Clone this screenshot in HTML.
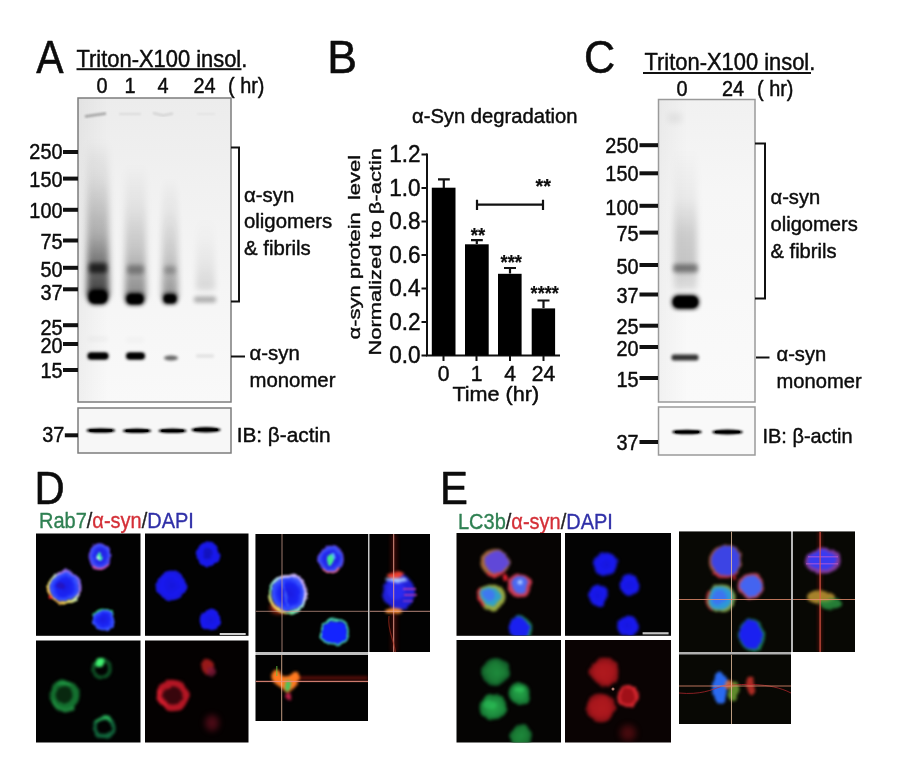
<!DOCTYPE html>
<html lang="en">
<head>
<meta charset="utf-8">
<title>Figure</title>
<style>
html,body{margin:0;padding:0;background:#fff;}
body{width:900px;height:762px;overflow:hidden;}
svg{display:block;filter:blur(0.45px);font-family:"Liberation Sans",sans-serif;fill:#0c0c0c;stroke:#0c0c0c;stroke-width:0;}
text{stroke-linejoin:round;}
</style>
</head>
<body>
<svg width="900" height="762" viewBox="0 0 900 762">
<defs>
<filter id="b05" x="-60%" y="-60%" width="220%" height="220%" color-interpolation-filters="sRGB"><feGaussianBlur stdDeviation="0.6"/></filter>
<filter id="b1" x="-60%" y="-60%" width="220%" height="220%" color-interpolation-filters="sRGB"><feGaussianBlur stdDeviation="1"/></filter>
<filter id="b15" x="-60%" y="-60%" width="220%" height="220%" color-interpolation-filters="sRGB"><feGaussianBlur stdDeviation="1.6"/></filter>
<filter id="b2" x="-60%" y="-60%" width="220%" height="220%" color-interpolation-filters="sRGB"><feGaussianBlur stdDeviation="2.2"/></filter>
<filter id="b3" x="-60%" y="-60%" width="220%" height="220%" color-interpolation-filters="sRGB"><feGaussianBlur stdDeviation="3"/></filter>
<filter id="b4" x="-60%" y="-60%" width="220%" height="220%" color-interpolation-filters="sRGB"><feGaussianBlur stdDeviation="4"/></filter>
<filter id="b5" x="-60%" y="-60%" width="220%" height="220%" color-interpolation-filters="sRGB"><feGaussianBlur stdDeviation="5"/></filter>
<filter id="org" x="-20%" y="-20%" width="140%" height="140%" color-interpolation-filters="sRGB"><feTurbulence type="fractalNoise" baseFrequency="0.11" numOctaves="2" seed="7" result="n"/><feDisplacementMap in="SourceGraphic" in2="n" scale="5" xChannelSelector="R" yChannelSelector="G" result="d"/><feGaussianBlur in="d" stdDeviation="1.1"/></filter>
<filter id="org2" x="-20%" y="-20%" width="140%" height="140%" color-interpolation-filters="sRGB"><feTurbulence type="fractalNoise" baseFrequency="0.09" numOctaves="2" seed="3" result="n"/><feDisplacementMap in="SourceGraphic" in2="n" scale="5" xChannelSelector="R" yChannelSelector="G" result="d"/><feGaussianBlur in="d" stdDeviation="1.7"/></filter>
<linearGradient id="sm1" x1="0" y1="0" x2="0" y2="1">
<stop offset="0" stop-color="#000" stop-opacity="0"/><stop offset="0.25" stop-color="#000" stop-opacity="0.08"/><stop offset="0.6" stop-color="#000" stop-opacity="0.28"/><stop offset="0.85" stop-color="#000" stop-opacity="0.6"/><stop offset="1" stop-color="#000" stop-opacity="0.75"/>
</linearGradient>
<linearGradient id="sm2" x1="0" y1="0" x2="0" y2="1">
<stop offset="0" stop-color="#000" stop-opacity="0"/><stop offset="0.3" stop-color="#000" stop-opacity="0.06"/><stop offset="0.65" stop-color="#000" stop-opacity="0.2"/><stop offset="1" stop-color="#000" stop-opacity="0.45"/>
</linearGradient>
<linearGradient id="bgA" x1="0" y1="0" x2="0" y2="1">
<stop offset="0" stop-color="#ececec"/><stop offset="0.3" stop-color="#f1f1f1"/><stop offset="0.7" stop-color="#f6f6f6"/><stop offset="1" stop-color="#f9f9f9"/>
</linearGradient>
<linearGradient id="edgeL" x1="0" y1="0" x2="1" y2="0">
<stop offset="0" stop-color="#000" stop-opacity="0.06"/><stop offset="1" stop-color="#000" stop-opacity="0"/>
</linearGradient>
<clipPath id="cA"><rect x="78" y="98" width="153" height="304"/></clipPath>
<clipPath id="cC"><rect x="658" y="99" width="97" height="303"/></clipPath>
<radialGradient id="blueC" cx="0.5" cy="0.5" r="0.5">
<stop offset="0" stop-color="#1a1ae0"/><stop offset="0.6" stop-color="#1a24f4"/><stop offset="0.9" stop-color="#3450ff"/><stop offset="1" stop-color="#4a60ff"/>
</radialGradient>
<radialGradient id="blueD" cx="0.5" cy="0.5" r="0.5">
<stop offset="0" stop-color="#1616dc"/><stop offset="0.7" stop-color="#1818f0"/><stop offset="1" stop-color="#1818d0"/>
</radialGradient>
<linearGradient id="rimD" x1="1" y1="0" x2="0" y2="1">
<stop offset="0" stop-color="#5a5aff"/><stop offset="0.3" stop-color="#a070e8"/><stop offset="0.5" stop-color="#c0e0b0"/><stop offset="0.7" stop-color="#f0e060"/><stop offset="1" stop-color="#ff8a30"/>
</linearGradient>
<clipPath id="cD1"><rect x="36" y="533.500" width="104.500" height="102"/></clipPath>
<clipPath id="cD2"><rect x="145" y="533.500" width="103.500" height="102.300"/></clipPath>
<clipPath id="cD3"><rect x="36" y="640.500" width="104.500" height="102"/></clipPath>
<clipPath id="cD4"><rect x="145" y="640.500" width="103.500" height="102"/></clipPath>
<clipPath id="cD5"><rect x="255.500" y="534" width="112.500" height="118"/></clipPath>
<clipPath id="cD6"><rect x="369.500" y="534" width="60.500" height="118"/></clipPath>
<clipPath id="cD7"><rect x="255.500" y="655" width="112.500" height="66"/></clipPath>
<clipPath id="cE1"><rect x="456.500" y="533" width="104.500" height="102.500"/></clipPath>
<clipPath id="cE2"><rect x="565" y="533" width="105.500" height="102.500"/></clipPath>
<clipPath id="cE3"><rect x="456.500" y="640" width="104.500" height="102.500"/></clipPath>
<clipPath id="cE4"><rect x="565" y="640" width="105.500" height="102.500"/></clipPath>
<clipPath id="cE5"><rect x="679" y="531.500" width="112" height="120.500"/></clipPath>
<clipPath id="cE6"><rect x="793" y="531.500" width="62" height="120.500"/></clipPath>
<clipPath id="cE7"><rect x="679" y="654.500" width="112" height="69.500"/></clipPath>
<linearGradient id="sm3" x1="0" y1="0" x2="0" y2="1">
<stop offset="0" stop-color="#000" stop-opacity="0"/><stop offset="0.35" stop-color="#000" stop-opacity="0.05"/><stop offset="0.6" stop-color="#000" stop-opacity="0.17"/><stop offset="0.8" stop-color="#000" stop-opacity="0.2"/><stop offset="1" stop-color="#000" stop-opacity="0.1"/>
</linearGradient>
<linearGradient id="bgC" x1="0" y1="0" x2="0" y2="1">
<stop offset="0" stop-color="#f1f1f1"/><stop offset="0.3" stop-color="#f6f6f6"/><stop offset="1" stop-color="#fafafa"/>
</linearGradient>
<radialGradient id="gG" cx="0.5" cy="0.5" r="0.5">
<stop offset="0" stop-color="#26a848"/><stop offset="0.6" stop-color="#1e9040"/><stop offset="1" stop-color="#136a2c"/>
</radialGradient>
<radialGradient id="gG2" cx="0.5" cy="0.5" r="0.5">
<stop offset="0" stop-color="#1e8a3c"/><stop offset="0.6" stop-color="#1a7a34"/><stop offset="1" stop-color="#105626"/>
</radialGradient>
<radialGradient id="gR" cx="0.5" cy="0.5" r="0.5">
<stop offset="0" stop-color="#b01a1e"/><stop offset="0.65" stop-color="#a8161c"/><stop offset="1" stop-color="#7a1014"/>
</radialGradient>
<linearGradient id="rimD2" x1="1" y1="0" x2="0" y2="1">
<stop offset="0" stop-color="#b090f0"/><stop offset="0.3" stop-color="#d8c8ff"/><stop offset="0.5" stop-color="#a0e0e0"/><stop offset="0.7" stop-color="#70e0a0"/><stop offset="0.85" stop-color="#f0d060"/><stop offset="1" stop-color="#ff7030"/>
</linearGradient>
</defs>
<rect width="900" height="762" fill="#fff" stroke="none"/>
<!-- ================= PANEL A ================= -->
<g id="panelA">
<text transform="translate(36.2 72.5) scale(0.9 1)" font-size="45.5" stroke-width="0.6">A</text>
<text transform="translate(76.5 67) scale(0.94 1)" font-size="23.3" stroke-width="0.45">Triton-X100 insol.</text>
<rect x="76.500" y="68.200" width="165" height="2" fill="#111"/>
<text transform="translate(102 93.3) scale(0.93 1)" font-size="21.4" text-anchor="middle" stroke-width="0.45">0</text>
<text transform="translate(130 93.3) scale(0.93 1)" font-size="21.4" text-anchor="middle" stroke-width="0.45">1</text>
<text transform="translate(163 93.3) scale(0.93 1)" font-size="21.4" text-anchor="middle" stroke-width="0.45">4</text>
<text transform="translate(204.5 93.3) scale(0.93 1)" font-size="21.4" text-anchor="middle" stroke-width="0.45">24</text>
<text transform="translate(228 93.3) scale(0.93 1)" font-size="21.4" stroke-width="0.45">( hr)</text>
<rect x="78" y="98" width="153" height="304" fill="url(#bgA)"/>
<g clip-path="url(#cA)">
 <rect x="78" y="98" width="30" height="304" fill="url(#edgeL)" opacity="0.7"/>
 <!-- smears -->
 <rect x="87" y="140" width="22" height="157" fill="url(#sm1)" filter="url(#b3)"/>
 <rect x="125" y="165" width="21" height="133" fill="url(#sm2)" filter="url(#b3)"/>
 <rect x="162" y="175" width="16" height="124" fill="url(#sm2)" opacity="0.9" filter="url(#b3)"/>
 <rect x="196" y="215" width="19" height="75" fill="url(#sm2)" opacity="0.28" filter="url(#b3)"/>
 <!-- top well marks -->
 <path d="M85 116.500L95 115L106 113.500" stroke="#000" stroke-width="2.500" opacity="0.3" fill="none" filter="url(#b1)"/>
 <rect x="119" y="113" width="22" height="2" fill="#000" opacity="0.07" filter="url(#b1)"/>
 <path d="M153 113L163 115.500L173 113.500" stroke="#000" stroke-width="2" opacity="0.12" fill="none" filter="url(#b1)"/>
 <rect x="197" y="113" width="18" height="2" fill="#000" opacity="0.04" filter="url(#b1)"/>
 <!-- 50 kDa -->
 <rect x="89" y="263" width="18" height="10" rx="3" fill="#000" opacity="0.7" filter="url(#b2)"/>
 <rect x="127" y="265" width="17" height="9" rx="3" fill="#000" opacity="0.3" filter="url(#b2)"/>
 <rect x="164" y="266" width="12" height="8" rx="3" fill="#000" opacity="0.22" filter="url(#b2)"/>
 <!-- 37 kDa -->
 <rect x="88" y="289.500" width="20" height="15" rx="6" fill="#000" filter="url(#b2)"/>
 <rect x="89.500" y="291" width="17" height="12" rx="5" fill="#000" filter="url(#b1)"/>
 <rect x="125.500" y="293" width="19" height="12" rx="5" fill="#000" filter="url(#b2)"/>
 <rect x="127.500" y="294.500" width="15" height="9" rx="4" fill="#000" filter="url(#b1)"/>
 <rect x="163" y="293.500" width="14" height="10.500" rx="4" fill="#000" filter="url(#b2)"/>
 <rect x="164.500" y="295" width="11" height="7.500" rx="3" fill="#000" opacity="0.9" filter="url(#b1)"/>
 <rect x="194" y="296.500" width="22" height="6" rx="2" fill="#000" opacity="0.3" filter="url(#b2)"/>
 <!-- faint halo above monomer -->
 <rect x="88" y="336" width="20" height="6" fill="#000" opacity="0.025" filter="url(#b2)"/>
 <rect x="126" y="337" width="18" height="6" fill="#000" opacity="0.02" filter="url(#b2)"/>
 <!-- monomer -->
 <rect x="87.500" y="352.500" width="21" height="7" rx="3" fill="#000" filter="url(#b15)"/>
 <rect x="89" y="353.500" width="18" height="5" rx="2" fill="#000" opacity="0.8" filter="url(#b1)"/>
 <rect x="126" y="352.500" width="19" height="7" rx="3" fill="#000" filter="url(#b15)"/>
 <rect x="128" y="353.500" width="15" height="5" rx="2" fill="#000" opacity="0.8" filter="url(#b1)"/>
 <ellipse cx="171" cy="358" rx="7" ry="2.600" fill="#000" opacity="0.6" filter="url(#b15)"/>
 <rect x="196" y="354.500" width="18" height="3" rx="1" fill="#000" opacity="0.1" filter="url(#b15)"/>
</g>
<rect x="78" y="98" width="153" height="304" fill="none" stroke="#7c7c7c" stroke-width="1.500"/>
<rect x="78" y="408" width="153" height="45" fill="#f7f7f7" stroke="#7c7c7c" stroke-width="1.500"/>
<ellipse cx="100.8" cy="430.5" rx="14.5" ry="2.3" fill="#000" filter="url(#b1)"/>
<rect x="89.3" y="429.2" width="23" height="2.600" rx="1.300" fill="#000" filter="url(#b05)"/>
<ellipse cx="137" cy="430.8" rx="14.5" ry="2.3" fill="#000" filter="url(#b1)"/>
<rect x="125.5" y="429.5" width="23" height="2.600" rx="1.300" fill="#000" filter="url(#b05)"/>
<ellipse cx="172.5" cy="430.8" rx="14.3" ry="2.3" fill="#000" filter="url(#b1)"/>
<rect x="161.2" y="429.5" width="22.6" height="2.600" rx="1.300" fill="#000" filter="url(#b05)"/>
<ellipse cx="206" cy="429.8" rx="14.8" ry="2.7" fill="#000" filter="url(#b1)"/>
<rect x="194.2" y="428.5" width="23.6" height="2.600" rx="1.300" fill="#000" filter="url(#b05)"/>
<text transform="translate(62.5 159.4) scale(0.92 1)" font-size="21.6" text-anchor="end" stroke-width="0.45">250</text>
<rect x="63" y="150" width="15" height="4" fill="#111"/>
<text transform="translate(62.5 187) scale(0.92 1)" font-size="21.6" text-anchor="end" stroke-width="0.45">150</text>
<rect x="63" y="176.6" width="15" height="4" fill="#111"/>
<text transform="translate(62.5 218.2) scale(0.92 1)" font-size="21.6" text-anchor="end" stroke-width="0.45">100</text>
<rect x="63" y="207.8" width="15" height="4" fill="#111"/>
<text transform="translate(62.5 249.1) scale(0.92 1)" font-size="21.6" text-anchor="end" stroke-width="0.45">75</text>
<rect x="63" y="238.5" width="15" height="4" fill="#111"/>
<text transform="translate(62.5 276.9) scale(0.92 1)" font-size="21.6" text-anchor="end" stroke-width="0.45">50</text>
<rect x="63" y="265.8" width="15" height="4" fill="#111"/>
<text transform="translate(62.5 299.9) scale(0.92 1)" font-size="21.6" text-anchor="end" stroke-width="0.45">37</text>
<rect x="63" y="287.3" width="15" height="4" fill="#111"/>
<text transform="translate(62.5 334.5) scale(0.92 1)" font-size="21.6" text-anchor="end" stroke-width="0.45">25</text>
<rect x="63" y="323.2" width="15" height="4" fill="#111"/>
<text transform="translate(62.5 352.5) scale(0.92 1)" font-size="21.6" text-anchor="end" stroke-width="0.45">20</text>
<rect x="63" y="342" width="15" height="4" fill="#111"/>
<text transform="translate(62.5 378.1) scale(0.92 1)" font-size="21.6" text-anchor="end" stroke-width="0.45">15</text>
<rect x="63" y="368" width="15" height="4" fill="#111"/>
<text transform="translate(64.3 442.3) scale(0.92 1)" font-size="21.6" text-anchor="end" stroke-width="0.45">37</text>
<rect x="64.8" y="433.3" width="13.2" height="4" fill="#111"/>
<path d="M231 147.500H239V301.500H231" fill="none" stroke="#111" stroke-width="2"/>
<path d="M231 356.500H245" fill="none" stroke="#111" stroke-width="2"/>
<text transform="translate(244 201.5) scale(0.97 1)" font-size="21" stroke-width="0.45">α-syn</text>
<text transform="translate(244 228.3) scale(0.97 1)" font-size="21" stroke-width="0.45">oligomers</text>
<text transform="translate(244 255.3) scale(0.97 1)" font-size="21" stroke-width="0.45">&amp; fibrils</text>
<text transform="translate(249.5 360) scale(0.97 1)" font-size="21" stroke-width="0.45">α-syn</text>
<text transform="translate(249.5 387.3) scale(0.97 1)" font-size="21" stroke-width="0.45">monomer</text>
<text transform="translate(236.7 441.8) scale(0.99 1)" font-size="21" stroke-width="0.45">IB: β-actin</text>
</g>
<!-- ================= PANEL B ================= -->
<g id="panelB">
<text transform="translate(327.3 72.7) scale(0.98 1)" font-size="45.5" stroke-width="0.6">B</text>
<text transform="translate(412 123.3) scale(1.01 1)" font-size="20" stroke-width="0.45">α-Syn degradation</text>
<path d="M427 153.500V355.500H560" fill="none" stroke="#111" stroke-width="2"/>
<g stroke="#111" stroke-width="2">
<path d="M421.500 154.500H427M421.500 188H427M421.500 221.500H427M421.500 255H427M421.500 288.500H427M421.500 322H427M421.500 355.500H427"/>
<path d="M443.500 355V361M476.500 355V361M510 355V361M543.500 355V361"/>
</g>
<text transform="translate(420.5 162.4) scale(0.98 1)" font-size="23" text-anchor="end" stroke-width="0.45">1.2</text>
<text transform="translate(420.5 195.9) scale(0.98 1)" font-size="23" text-anchor="end" stroke-width="0.45">1.0</text>
<text transform="translate(420.5 229.4) scale(0.98 1)" font-size="23" text-anchor="end" stroke-width="0.45">0.8</text>
<text transform="translate(420.5 262.9) scale(0.98 1)" font-size="23" text-anchor="end" stroke-width="0.45">0.6</text>
<text transform="translate(420.5 296.4) scale(0.98 1)" font-size="23" text-anchor="end" stroke-width="0.45">0.4</text>
<text transform="translate(420.5 329.9) scale(0.98 1)" font-size="23" text-anchor="end" stroke-width="0.45">0.2</text>
<text transform="translate(420.5 363.4) scale(0.98 1)" font-size="23" text-anchor="end" stroke-width="0.45">0.0</text>
<g fill="#000">
<rect x="431.800" y="187.700" width="23.700" height="167.800"/>
<rect x="465" y="244.300" width="23.700" height="111.200"/>
<rect x="498" y="273.800" width="23.600" height="81.700"/>
<rect x="531.700" y="308.400" width="23.400" height="47.100"/>
</g>
<g stroke="#111" stroke-width="2.200" fill="none">
<path d="M443.800 188V179.300M438 179.300H449.800"/>
<path d="M476.800 244V240.200M471 240.200H482.800"/>
<path d="M510 273.500V268M504 268H516"/>
<path d="M543.500 308V300.500M537.500 300.500H549.500"/>
<path d="M477 204.700H543M477 199.700V210M543 199.700V210"/>
</g>
<text transform="translate(543.2 192.8) scale(1.03 1)" font-size="19.3" text-anchor="middle" stroke-width="0.2" font-weight="bold">**</text>
<text transform="translate(478 241.6) scale(0.96 1)" font-size="19.3" text-anchor="middle" stroke-width="0.2" font-weight="bold">**</text>
<text transform="translate(511.3 269.2) scale(0.95 1)" font-size="19.3" text-anchor="middle" stroke-width="0.2" font-weight="bold">***</text>
<text transform="translate(544.7 300) scale(0.94 1)" font-size="19.3" text-anchor="middle" stroke-width="0.2" font-weight="bold">****</text>
<text transform="translate(443.5 381.2) scale(0.94 1)" font-size="22.5" text-anchor="middle" stroke-width="0.45">0</text>
<text transform="translate(476.5 381.2) scale(0.94 1)" font-size="22.5" text-anchor="middle" stroke-width="0.45">1</text>
<text transform="translate(510 381.2) scale(0.94 1)" font-size="22.5" text-anchor="middle" stroke-width="0.45">4</text>
<text transform="translate(543.5 381.2) scale(0.94 1)" font-size="22.5" text-anchor="middle" stroke-width="0.45">24</text>
<text transform="translate(495.8 401.3) scale(1.03 1)" font-size="21" text-anchor="middle" stroke-width="0.45">Time (hr)</text>
<text transform="translate(359.5 339.5) rotate(-90) scale(1.33 1)" font-size="16.5" stroke-width="0.35" xml:space="preserve">α-syn protein  level</text>
<text transform="translate(381 355.5) rotate(-90) scale(1.29 1)" font-size="17" stroke-width="0.35">Normalized to β-actin</text>
</g>
<!-- ================= PANEL C ================= -->
<g id="panelC">
<text transform="translate(584 72.9) scale(0.95 1)" font-size="45.5" stroke-width="0.6">C</text>
<text transform="translate(644.5 69.5) scale(0.94 1)" font-size="23.3" stroke-width="0.45">Triton-X100 insol.</text>
<rect x="643" y="72" width="168" height="2" fill="#111"/>
<text transform="translate(682 96) scale(0.93 1)" font-size="21.4" text-anchor="middle" stroke-width="0.45">0</text>
<text transform="translate(733 96) scale(0.93 1)" font-size="21.4" text-anchor="middle" stroke-width="0.45">24</text>
<text transform="translate(757 96) scale(0.93 1)" font-size="21.4" stroke-width="0.45">( hr)</text>
<rect x="658" y="99" width="97" height="303" fill="url(#bgC)"/>
<g clip-path="url(#cC)">
 <rect x="658" y="99" width="30" height="303" fill="url(#edgeL)" opacity="0.6"/>
 <rect x="668" y="113" width="14" height="10" fill="#000" opacity="0.05" filter="url(#b3)"/>
 <rect x="674" y="150" width="23" height="140" fill="url(#sm3)" filter="url(#b3)"/>
 <rect x="673" y="264" width="25" height="8.500" rx="3" fill="#000" opacity="0.42" filter="url(#b2)"/>
 <rect x="672" y="295" width="27" height="14" rx="6" fill="#000" filter="url(#b2)"/>
 <rect x="673.500" y="296.500" width="24" height="11" rx="5" fill="#000" filter="url(#b1)"/>
 <rect x="671.500" y="354.500" width="27" height="6" rx="2.500" fill="#000" opacity="0.8" filter="url(#b15)"/>
</g>
<rect x="658.500" y="99.500" width="96.500" height="302.500" fill="none" stroke="#9a9a9a" stroke-width="1.500"/>
<rect x="658.500" y="407" width="96.500" height="48" fill="#f9f9f9" stroke="#9a9a9a" stroke-width="1.500"/>
<ellipse cx="687" cy="432" rx="15" ry="2.3" fill="#000" filter="url(#b1)"/>
<rect x="675" y="430.7" width="24" height="2.600" rx="1.300" fill="#000" filter="url(#b05)"/>
<ellipse cx="727.5" cy="432" rx="15.5" ry="2.5" fill="#000" filter="url(#b1)"/>
<rect x="715" y="430.7" width="25" height="2.600" rx="1.300" fill="#000" filter="url(#b05)"/>
<text transform="translate(638.5 153.3) scale(0.92 1)" font-size="21.6" text-anchor="end" stroke-width="0.45">250</text>
<rect x="639.500" y="143.2" width="18.500" height="4" fill="#111"/>
<text transform="translate(638.5 181.2) scale(0.92 1)" font-size="21.6" text-anchor="end" stroke-width="0.45">150</text>
<rect x="639.500" y="171.3" width="18.500" height="4" fill="#111"/>
<text transform="translate(638.5 215) scale(0.92 1)" font-size="21.6" text-anchor="end" stroke-width="0.45">100</text>
<rect x="639.500" y="203.8" width="18.500" height="4" fill="#111"/>
<text transform="translate(638.5 241.2) scale(0.92 1)" font-size="21.6" text-anchor="end" stroke-width="0.45">75</text>
<rect x="639.500" y="230.6" width="18.500" height="4" fill="#111"/>
<text transform="translate(638.5 273.7) scale(0.92 1)" font-size="21.6" text-anchor="end" stroke-width="0.45">50</text>
<rect x="639.500" y="263" width="18.500" height="4" fill="#111"/>
<text transform="translate(638.5 303.2) scale(0.92 1)" font-size="21.6" text-anchor="end" stroke-width="0.45">37</text>
<rect x="639.500" y="292.5" width="18.500" height="4" fill="#111"/>
<text transform="translate(638.5 334.3) scale(0.92 1)" font-size="21.6" text-anchor="end" stroke-width="0.45">25</text>
<rect x="639.500" y="323.7" width="18.500" height="4" fill="#111"/>
<text transform="translate(638.5 356) scale(0.92 1)" font-size="21.6" text-anchor="end" stroke-width="0.45">20</text>
<rect x="639.500" y="345" width="18.500" height="4" fill="#111"/>
<text transform="translate(638.5 386.5) scale(0.92 1)" font-size="21.6" text-anchor="end" stroke-width="0.45">15</text>
<rect x="639.500" y="376" width="18.500" height="4" fill="#111"/>
<text transform="translate(638.5 450.3) scale(0.92 1)" font-size="21.6" text-anchor="end" stroke-width="0.45">37</text>
<rect x="639.500" y="440" width="18.500" height="4" fill="#111"/>
<path d="M755 143.500H765V298.500H755" fill="none" stroke="#111" stroke-width="2"/>
<path d="M756 357.500H769.500" fill="none" stroke="#111" stroke-width="2"/>
<text transform="translate(770.5 204) scale(0.96 1)" font-size="21" stroke-width="0.45">α-syn</text>
<text transform="translate(770.5 231) scale(0.96 1)" font-size="21" stroke-width="0.45">oligomers</text>
<text transform="translate(770.5 258) scale(0.96 1)" font-size="21" stroke-width="0.45">&amp; fibrils</text>
<text transform="translate(776.5 361) scale(0.96 1)" font-size="21" stroke-width="0.45">α-syn</text>
<text transform="translate(776.5 388) scale(0.96 1)" font-size="21" stroke-width="0.45">monomer</text>
<text transform="translate(762.5 443) scale(0.95 1)" font-size="21" stroke-width="0.45">IB: β-actin</text>
</g>
<!-- ================= PANEL D ================= -->
<g id="panelD">
<text transform="translate(34.4 504.2) scale(0.92 1)" font-size="45.5" stroke-width="0.6">D</text>
<text transform="translate(39 528) scale(0.93 1)" font-size="21.500" stroke-width="0.350"><tspan fill="#2f8052" stroke="#2f8052">Rab7</tspan><tspan fill="#222" stroke="#222">/</tspan><tspan fill="#d43038" stroke="#d43038">α-syn</tspan><tspan fill="#222" stroke="#222">/</tspan><tspan fill="#3030a8" stroke="#3030a8">DAPI</tspan></text>
<!-- D1 merged -->
<rect x="36" y="533.500" width="104.500" height="102.300" fill="#020202"/>
<g clip-path="url(#cD1)">
 <g filter="url(#org)">
  <circle cx="64.500" cy="587.500" r="15.500" fill="none" stroke="url(#rimD)" stroke-width="3"/>
  <circle cx="50.500" cy="598" r="2" fill="#ff2a2a"/>
  <circle cx="64.500" cy="587" r="14" fill="url(#blueC)"/>
  <ellipse cx="61" cy="586" rx="4" ry="3" fill="#2a10b0" opacity="0.7"/>
  <ellipse cx="100" cy="556.500" rx="11.500" ry="13.500" fill="#5a3ad0"/>
  <path d="M93 566Q101 572 108 564" stroke="#d050a0" stroke-width="2.500" fill="none"/>
  <ellipse cx="100" cy="556" rx="10" ry="12" fill="url(#blueC)" opacity="0.85"/>
  <ellipse cx="99.500" cy="557" rx="3" ry="4" fill="#40e8b0"/>
  <circle cx="98" cy="558" r="1.500" fill="#eaffea"/>
  <path d="M94 615a11 10 0 0 1 19 0" fill="none" stroke="#30c878" stroke-width="2.500"/>
  <ellipse cx="103.500" cy="620.500" rx="11" ry="10" fill="url(#blueC)"/>
 </g>
</g>
<!-- D2 DAPI -->
<rect x="145" y="533.500" width="103.500" height="102.300" fill="#020202"/>
<g clip-path="url(#cD2)">
 <g filter="url(#org)">
  <circle cx="171.500" cy="585.500" r="15" fill="url(#blueD)"/>
  <ellipse cx="208" cy="554.500" rx="11.500" ry="13" fill="url(#blueD)"/>
  <ellipse cx="208" cy="553" rx="4.500" ry="5" fill="#1010a8" opacity="0.6"/>
  <circle cx="210" cy="620" r="10.500" fill="url(#blueD)"/>
 </g>
 <rect x="219.700" y="633" width="26" height="2" fill="#d0d0d0"/>
</g>
<!-- D3 green -->
<rect x="36" y="640.500" width="104.500" height="102" fill="#020202"/>
<g clip-path="url(#cD3)">
 <g filter="url(#org2)">
  <circle cx="64.500" cy="695" r="12" fill="#08280f" stroke="#14702f" stroke-width="6"/>
  <path d="M52 700a13 13 0 0 0 22 7" fill="none" stroke="#2cc058" stroke-width="3" opacity="0.65"/>
  <path d="M57 685a13 13 0 0 1 14 -1" fill="none" stroke="#2cc058" stroke-width="2" opacity="0.6"/>
  <ellipse cx="101.500" cy="669" rx="8.500" ry="8.500" fill="none" stroke="#126a30" stroke-width="3.500" opacity="0.8"/>
  <circle cx="100" cy="662.500" r="4.500" fill="#40f070"/>
  <circle cx="104" cy="727.500" r="9.500" fill="none" stroke="#147a48" stroke-width="4" opacity="0.85"/>
  <path d="M96 722a9.500 9.500 0 0 1 15 -1" fill="none" stroke="#38d868" stroke-width="2.500" opacity="0.7"/>
 </g>
</g>
<!-- D4 red -->
<rect x="145" y="640.500" width="103.500" height="102" fill="#040101"/>
<g clip-path="url(#cD4)">
 <g filter="url(#org2)">
  <circle cx="173" cy="695.500" r="12.500" fill="#38060c" stroke="#b41624" stroke-width="6.500"/>
  <path d="M161 690a13 13 0 0 0 6 17" fill="none" stroke="#e82434" stroke-width="3" opacity="0.7"/>
  <ellipse cx="207.500" cy="667" rx="6" ry="8" fill="#a81c1c" opacity="0.9"/>
  <ellipse cx="212" cy="672" rx="4" ry="5" fill="#801838" opacity="0.8"/>
 </g>
 <ellipse cx="212" cy="723" rx="7" ry="8" fill="#90142a" opacity="0.5" filter="url(#b3)"/>
</g>
<!-- D ortho -->
<rect x="255.500" y="534" width="174.500" height="118" fill="#c8c8c8"/>
<rect x="255.500" y="651" width="112.500" height="6" fill="#c0c0c0"/>
<rect x="255.500" y="534" width="112.500" height="118" fill="#020202"/>
<rect x="369.500" y="534" width="60.500" height="118" fill="#020202"/>
<rect x="255.500" y="655" width="112.500" height="66" fill="#020202"/>
<g clip-path="url(#cD5)">
 <ellipse cx="279" cy="608" rx="9" ry="6" fill="#e03818" opacity="0.7" filter="url(#b2)"/>
 <g filter="url(#org)">
  <circle cx="288" cy="594" r="18.500" fill="none" stroke="url(#rimD2)" stroke-width="3"/>
  <circle cx="288.500" cy="593.500" r="17" fill="url(#blueC)"/>
  <path d="M283 580L288 606" stroke="#4a70ff" stroke-width="2" opacity="0.7"/>
  <ellipse cx="331" cy="559" rx="13" ry="14.500" fill="#5038c8"/>
  <path d="M322 569Q331 576 340 568" stroke="#e06080" stroke-width="2.500" fill="none"/>
  <ellipse cx="331" cy="558.500" rx="11.500" ry="13" fill="url(#blueC)" opacity="0.85"/>
  <ellipse cx="330" cy="560" rx="3" ry="5" fill="#40e890"/>
  <ellipse cx="333" cy="556" rx="2" ry="3" fill="#60d0ff" opacity="0.8"/>
  <ellipse cx="334.800" cy="632" rx="14" ry="12.500" fill="none" stroke="#48d0b0" stroke-width="2"/>
  <ellipse cx="334.800" cy="632.300" rx="13" ry="11.500" fill="#1424ff"/>
 </g>
 <rect x="281.500" y="534" width="1" height="118" fill="#d0a090" opacity="0.75"/>
 <rect x="255.500" y="610.800" width="112.500" height="1" fill="#d0a090" opacity="0.7"/>
</g>
<g clip-path="url(#cD6)">
 <rect x="391" y="534" width="6" height="118" fill="#a01810" opacity="0.35" filter="url(#b2)"/>
 <g filter="url(#org2)">
  <ellipse cx="399" cy="592.500" rx="16" ry="17" fill="#2020d8"/>
  <ellipse cx="396" cy="590" rx="9" ry="10" fill="#2a2af0"/>
  <ellipse cx="395" cy="575" rx="9" ry="3" fill="#f04030"/>
  <ellipse cx="396" cy="580" rx="12" ry="2" fill="#a8c8ff"/>
  <ellipse cx="394" cy="611" rx="8" ry="3" fill="#ff9030"/>
 </g>
 <rect x="403" y="588" width="13" height="2" fill="#d040b0" opacity="0.75" filter="url(#b1)"/>
 <rect x="404" y="594" width="13" height="2" fill="#d040b0" opacity="0.7" filter="url(#b1)"/>
 <rect x="403" y="600" width="10" height="2" fill="#a040c0" opacity="0.6" filter="url(#b1)"/>
 <rect x="393.200" y="534" width="1" height="118" fill="#f0a090" opacity="0.9"/>
 <path d="M389 616C387 630 394 640 395.500 652" fill="none" stroke="#b03020" stroke-width="1.200" opacity="0.6" filter="url(#b05)"/>
 <rect x="369.500" y="610.800" width="60.500" height="1" fill="#f0b0a0" opacity="0.75"/>
</g>
<g clip-path="url(#cD7)">
 <rect x="296" y="676" width="72" height="4" fill="#a01810" opacity="0.5" filter="url(#b15)"/>
 <g filter="url(#org2)">
  <path d="M271 676Q273 668 279 672Q284 680 290 674Q298 668 300 678Q297 688 288 692Q278 690 271 676Z" fill="#ff7a20"/>
  <ellipse cx="287.500" cy="686" rx="3" ry="5" fill="#40c860"/>
  <ellipse cx="289" cy="696" rx="3" ry="4" fill="#c02048"/>
 </g>
 <rect x="276" y="666" width="1.500" height="10" fill="#60c040" opacity="0.6" filter="url(#b05)"/>
 <rect x="281.200" y="655" width="1" height="66" fill="#f0c0a0" opacity="0.8"/>
 <rect x="255.500" y="680.800" width="112.500" height="1.300" fill="#f09080" opacity="0.85"/>
</g>
</g>
<!-- ================= PANEL E ================= -->
<g id="panelE">
<text transform="translate(440 504) scale(0.92 1)" font-size="45.5" stroke-width="0.6">E</text>
<text transform="translate(458 529) scale(0.93 1)" font-size="21.500" stroke-width="0.350"><tspan fill="#2f8052" stroke="#2f8052">LC3b</tspan><tspan fill="#222" stroke="#222">/</tspan><tspan fill="#d43038" stroke="#d43038">α-syn</tspan><tspan fill="#222" stroke="#222">/</tspan><tspan fill="#3030a8" stroke="#3030a8">DAPI</tspan></text>
<!-- E1 merged -->
<rect x="456.500" y="533" width="104.500" height="102.800" fill="#060403"/>
<g clip-path="url(#cE1)">
 <g filter="url(#org2)">
  <circle cx="495.500" cy="563" r="14" fill="#a86a38"/>
  <path d="M486 573Q495 579 505 573" stroke="#e03040" stroke-width="2.500" fill="none"/>
  <circle cx="497" cy="562" r="11.500" fill="#6048d8"/>
  <circle cx="519.500" cy="585" r="11.500" fill="#d03a50"/>
  <circle cx="519.500" cy="584.500" r="8.500" fill="#4a68f0"/>
  <circle cx="521" cy="583" r="2.500" fill="#b0d0ff"/>
  <circle cx="492" cy="597" r="13.500" fill="#98a840"/>
  <path d="M481 589a13 13 0 0 0 3 18" fill="none" stroke="#e03040" stroke-width="2.500"/>
  <circle cx="490.500" cy="596.500" r="10" fill="#30a0c8"/>
  <circle cx="489" cy="595" r="6" fill="#4078f0"/>
  <circle cx="505" cy="578.500" r="2.500" fill="#f02030"/>
  <circle cx="520.500" cy="628" r="11.500" fill="#209a60"/>
  <circle cx="519" cy="628" r="10.500" fill="#1a20f0"/>
 </g>
</g>
<!-- E2 DAPI -->
<rect x="565" y="533" width="106" height="102.800" fill="#030303"/>
<g clip-path="url(#cE2)">
 <g filter="url(#org2)">
  <circle cx="606" cy="564.500" r="12" fill="url(#blueD)"/>
  <ellipse cx="629" cy="585" rx="9.500" ry="11" fill="url(#blueD)"/>
  <ellipse cx="598.500" cy="595.500" rx="9.500" ry="11" fill="url(#blueD)"/>
  <circle cx="627.500" cy="626" r="10.500" fill="url(#blueD)"/>
 </g>
 <rect x="642.600" y="632.200" width="26" height="2.200" fill="#c4c4c4"/>
</g>
<!-- E3 green -->
<rect x="456.500" y="640" width="104.500" height="102.500" fill="#050403"/>
<g clip-path="url(#cE3)">
 <g filter="url(#org2)">
  <circle cx="496" cy="672" r="14" fill="url(#gG2)"/>
  <circle cx="519.500" cy="693" r="11" fill="url(#gG)"/>
  <ellipse cx="520" cy="690" rx="6" ry="3" fill="#30c058" opacity="0.8"/>
  <circle cx="493" cy="707" r="13.500" fill="url(#gG)"/>
  <ellipse cx="490" cy="704" rx="7" ry="4" fill="#2cc058" opacity="0.6"/>
  <circle cx="521" cy="735.500" r="11" fill="url(#gG2)"/>
 </g>
</g>
<!-- E4 red -->
<rect x="565" y="640" width="106" height="102.500" fill="#0a0303"/>
<g clip-path="url(#cE4)">
 <g filter="url(#org2)">
  <circle cx="604" cy="672" r="14.500" fill="url(#gR)"/>
  <circle cx="601" cy="708" r="14.500" fill="url(#gR)"/>
  <circle cx="628" cy="696" r="9.500" fill="#a01018" stroke="#d82830" stroke-width="3"/>
 </g>
 <circle cx="628" cy="733" r="8" fill="#701016" opacity="0.6" filter="url(#b3)"/>
 <circle cx="613" cy="689" r="1.500" fill="#ffb0a0" opacity="0.7" filter="url(#b05)"/>
</g>
<!-- E ortho -->
<rect x="679" y="531.500" width="176" height="120.500" fill="#b8b8b8"/>
<rect x="679" y="651" width="112" height="5" fill="#b0b0b0"/>
<rect x="679" y="531.500" width="112" height="120.500" fill="#080804"/>
<rect x="793" y="531.500" width="62" height="120.500" fill="#080804"/>
<rect x="679" y="654.500" width="112" height="69.500" fill="#080804"/>
<g clip-path="url(#cE5)">
 <g filter="url(#org2)">
  <circle cx="725.500" cy="561.500" r="16.500" fill="#a8583a"/>
  <path d="M713 573Q724 581 737 573" stroke="#d83040" stroke-width="2" fill="none"/>
  <circle cx="726" cy="561" r="14.800" fill="#3c44e4"/>
  <circle cx="751.500" cy="586" r="12.800" fill="#c84858"/>
  <circle cx="751.500" cy="586" r="10.800" fill="#4464f0"/>
  <circle cx="721.500" cy="598.500" r="14" fill="#80a048"/>
  <path d="M708.500 591a14 14 0 0 0 4 19" fill="none" stroke="#d83040" stroke-width="2"/>
  <circle cx="720.500" cy="598" r="11.500" fill="#2c98d8"/>
  <circle cx="719" cy="597" r="7" fill="#3c74f0"/>
  <ellipse cx="751.500" cy="635" rx="13.500" ry="16" fill="#1c8a50"/>
  <ellipse cx="751" cy="634.500" rx="12" ry="14.500" fill="#1a20f0"/>
  <circle cx="735" cy="578" r="2" fill="#e82030"/>
 </g>
 <rect x="731" y="531.500" width="1" height="120.500" fill="#e8c0a0" opacity="0.8"/>
 <rect x="679" y="599" width="112" height="1" fill="#e89070" opacity="0.8"/>
</g>
<g clip-path="url(#cE6)">
 <rect x="817.500" y="531.500" width="5" height="120.500" fill="#a01810" opacity="0.3" filter="url(#b15)"/>
 <g filter="url(#org2)">
  <ellipse cx="823" cy="561" rx="17.500" ry="12.500" fill="#9040b0" opacity="0.9"/>
  <ellipse cx="822" cy="560" rx="14" ry="9.500" fill="#3a3af0"/>
  <ellipse cx="821" cy="597" rx="14" ry="7" fill="#b89030" opacity="0.9"/>
  <ellipse cx="831" cy="604" rx="11" ry="5.500" fill="#2a9240" opacity="0.85"/>
 </g>
 <rect x="808" y="556" width="30" height="1.500" fill="#d060d0" opacity="0.5" filter="url(#b05)"/>
 <rect x="806" y="563" width="32" height="1.500" fill="#d060d0" opacity="0.5" filter="url(#b05)"/>
 <rect x="819.500" y="531.500" width="1.200" height="120.500" fill="#e85848" opacity="0.9"/>
 <rect x="793" y="599" width="62" height="1" fill="#e89070" opacity="0.8"/>
</g>
<g clip-path="url(#cE7)">
 <g filter="url(#org2)">
  <ellipse cx="720" cy="688" rx="8" ry="16.500" fill="#2a6af0"/>
  <ellipse cx="734" cy="691" rx="4.500" ry="11" fill="#6a9a30" opacity="0.9"/>
  <ellipse cx="728" cy="684" rx="4" ry="5" fill="#e07040" opacity="0.85"/>
  <ellipse cx="751" cy="686" rx="4" ry="10.500" fill="#c03028" opacity="0.9"/>
 </g>
 <path d="M679 693C700 695 712 690 722 686C740 684 770 682 791 693" fill="none" stroke="#c02a30" stroke-width="1" opacity="0.7"/>
 <rect x="731" y="654.500" width="1" height="69.500" fill="#e8c0a0" opacity="0.8"/>
 <rect x="679" y="685.500" width="112" height="1" fill="#e89070" opacity="0.8"/>
</g>
</g>
</svg>
</body>
</html>
